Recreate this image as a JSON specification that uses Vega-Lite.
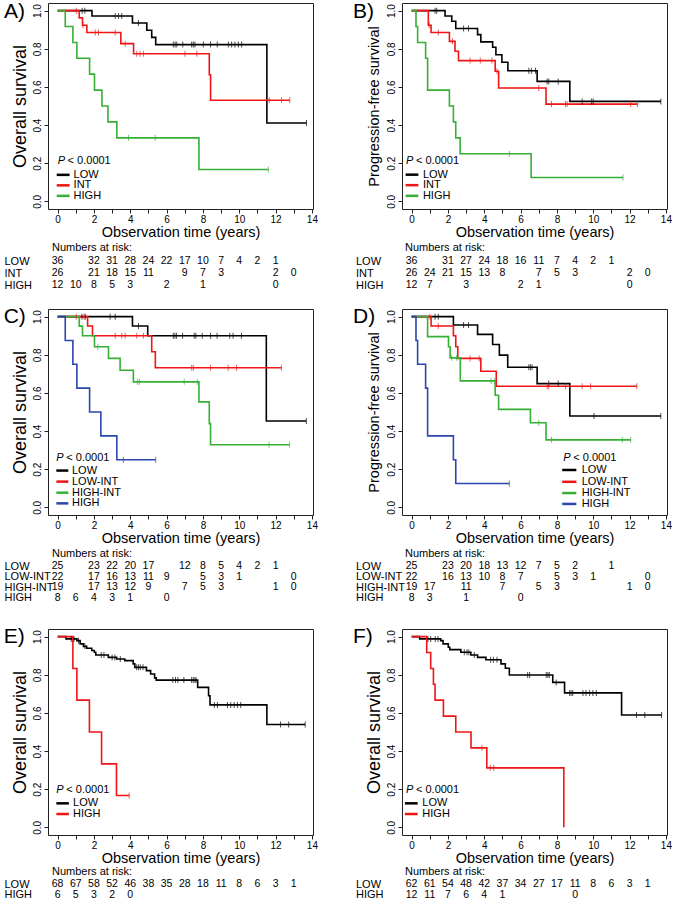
{
"$schema": "https://vega.github.io/schema/vega-lite/v6.json",
"padding": {"left": 3, "top": 0, "right": 0, "bottom": 0},
"background": "white",
"config": {
  "font": "Liberation Sans",
  "view": {"stroke": "#222", "strokeWidth": 1},
  "axis": {"grid": false, "domain": false, "tickColor": "#222", "tickSize": 4, "labelFontSize": 10, "labelColor": "#000", "titleColor": "#000", "titleFontWeight": "normal", "labelOverlap": false},
  "title": {"fontWeight": "normal", "color": "#000"}
},
"datasets": {
  "aC": [
    {"g":"LOW","t":0,"s":1},{"g":"LOW","t":1.89,"s":0.972},{"g":"LOW","t":4.12,"s":0.935},{"g":"LOW","t":4.91,"s":0.897},{"g":"LOW","t":5.18,"s":0.86},{"g":"LOW","t":5.4,"s":0.822},{"g":"LOW","t":11.52,"s":0.411},{"g":"LOW","t":13.7,"s":0.411},
    {"g":"INT","t":0,"s":1},{"g":"INT","t":1.19,"s":0.962},{"g":"INT","t":1.37,"s":0.923},{"g":"INT","t":1.61,"s":0.885},{"g":"INT","t":3.48,"s":0.827},{"g":"INT","t":4.18,"s":0.774},{"g":"INT","t":8.35,"s":0.664},{"g":"INT","t":8.42,"s":0.53},{"g":"INT","t":12.78,"s":0.53},
    {"g":"HIGH","t":0,"s":1},{"g":"HIGH","t":0.42,"s":0.917},{"g":"HIGH","t":0.84,"s":0.833},{"g":"HIGH","t":1.06,"s":0.75},{"g":"HIGH","t":1.76,"s":0.667},{"g":"HIGH","t":2.03,"s":0.583},{"g":"HIGH","t":2.44,"s":0.5},{"g":"HIGH","t":2.77,"s":0.417},{"g":"HIGH","t":3.26,"s":0.333},{"g":"HIGH","t":7.78,"s":0.167},{"g":"HIGH","t":11.6,"s":0.167}
  ],
  "aX": [
    {"g":"LOW","t":1.35,"s":1},{"g":"LOW","t":1.5,"s":1},{"g":"LOW","t":3.17,"s":0.972},{"g":"LOW","t":3.35,"s":0.972},{"g":"LOW","t":3.53,"s":0.972},{"g":"LOW","t":4.45,"s":0.935},
    {"g":"LOW","t":6.37,"s":0.822},{"g":"LOW","t":6.47,"s":0.822},{"g":"LOW","t":6.56,"s":0.822},{"g":"LOW","t":6.89,"s":0.822},{"g":"LOW","t":7.38,"s":0.822},{"g":"LOW","t":7.47,"s":0.822},{"g":"LOW","t":7.56,"s":0.822},{"g":"LOW","t":8.02,"s":0.822},{"g":"LOW","t":8.42,"s":0.822},{"g":"LOW","t":8.79,"s":0.822},{"g":"LOW","t":9.4,"s":0.822},{"g":"LOW","t":9.58,"s":0.822},{"g":"LOW","t":9.76,"s":0.822},{"g":"LOW","t":9.95,"s":0.822},{"g":"LOW","t":10.13,"s":0.822},{"g":"LOW","t":13.7,"s":0.411},
    {"g":"INT","t":1.03,"s":1},{"g":"INT","t":1.39,"s":0.923},{"g":"INT","t":2.07,"s":0.885},{"g":"INT","t":2.25,"s":0.885},{"g":"INT","t":3.17,"s":0.885},{"g":"INT","t":3.72,"s":0.827},{"g":"INT","t":4.36,"s":0.774},{"g":"INT","t":4.54,"s":0.774},{"g":"INT","t":4.73,"s":0.774},{"g":"INT","t":7.01,"s":0.774},{"g":"INT","t":7.66,"s":0.774},{"g":"INT","t":11.65,"s":0.53},{"g":"INT","t":12.33,"s":0.53},{"g":"INT","t":12.78,"s":0.53},
    {"g":"HIGH","t":3.9,"s":0.333},{"g":"HIGH","t":5.37,"s":0.333},{"g":"HIGH","t":11.6,"s":0.167}
  ],
  "aR": [
    {"g":"LOW","t":0,"n":36},{"g":"LOW","t":2,"n":32},{"g":"LOW","t":3,"n":31},{"g":"LOW","t":4,"n":28},{"g":"LOW","t":5,"n":24},{"g":"LOW","t":6,"n":22},{"g":"LOW","t":7,"n":17},{"g":"LOW","t":8,"n":10},{"g":"LOW","t":9,"n":7},{"g":"LOW","t":10,"n":4},{"g":"LOW","t":11,"n":2},{"g":"LOW","t":12,"n":1},
    {"g":"INT","t":0,"n":26},{"g":"INT","t":2,"n":21},{"g":"INT","t":3,"n":18},{"g":"INT","t":4,"n":15},{"g":"INT","t":5,"n":11},{"g":"INT","t":7,"n":9},{"g":"INT","t":8,"n":7},{"g":"INT","t":9,"n":3},{"g":"INT","t":12,"n":2},{"g":"INT","t":13,"n":0},
    {"g":"HIGH","t":0,"n":12},{"g":"HIGH","t":1,"n":10},{"g":"HIGH","t":2,"n":8},{"g":"HIGH","t":3,"n":5},{"g":"HIGH","t":4,"n":3},{"g":"HIGH","t":6,"n":2},{"g":"HIGH","t":8,"n":1},{"g":"HIGH","t":12,"n":0}
  ],
  "bC": [
    {"g":"LOW","t":0,"s":1},{"g":"LOW","t":1.84,"s":0.972},{"g":"LOW","t":2.21,"s":0.944},{"g":"LOW","t":2.43,"s":0.906},{"g":"LOW","t":3.63,"s":0.874},{"g":"LOW","t":3.81,"s":0.836},{"g":"LOW","t":4.46,"s":0.808},{"g":"LOW","t":4.64,"s":0.769},{"g":"LOW","t":4.97,"s":0.729},{"g":"LOW","t":5.3,"s":0.685},{"g":"LOW","t":6.91,"s":0.629},{"g":"LOW","t":8.71,"s":0.524},{"g":"LOW","t":13.72,"s":0.524},
    {"g":"INT","t":0,"s":1},{"g":"INT","t":0.92,"s":0.923},{"g":"INT","t":1.07,"s":0.885},{"g":"INT","t":2.08,"s":0.839},{"g":"INT","t":2.39,"s":0.787},{"g":"INT","t":2.58,"s":0.738},{"g":"INT","t":4.6,"s":0.682},{"g":"INT","t":4.79,"s":0.594},{"g":"INT","t":7.4,"s":0.51},{"g":"INT","t":12.43,"s":0.51},
    {"g":"HIGH","t":0,"s":1},{"g":"HIGH","t":0.24,"s":0.917},{"g":"HIGH","t":0.33,"s":0.833},{"g":"HIGH","t":0.77,"s":0.75},{"g":"HIGH","t":0.88,"s":0.583},{"g":"HIGH","t":2.08,"s":0.5},{"g":"HIGH","t":2.3,"s":0.417},{"g":"HIGH","t":2.43,"s":0.333},{"g":"HIGH","t":2.67,"s":0.25},{"g":"HIGH","t":6.58,"s":0.125},{"g":"HIGH","t":11.64,"s":0.125}
  ],
  "bX": [
    {"g":"LOW","t":1.29,"s":1},{"g":"LOW","t":1.38,"s":1},{"g":"LOW","t":2.86,"s":0.906},{"g":"LOW","t":3.13,"s":0.906},{"g":"LOW","t":6.45,"s":0.685},{"g":"LOW","t":6.59,"s":0.685},{"g":"LOW","t":6.82,"s":0.685},{"g":"LOW","t":7.46,"s":0.629},{"g":"LOW","t":7.55,"s":0.629},{"g":"LOW","t":8.07,"s":0.629},{"g":"LOW","t":9.39,"s":0.524},{"g":"LOW","t":9.91,"s":0.524},{"g":"LOW","t":10.0,"s":0.524},{"g":"LOW","t":13.72,"s":0.524},
    {"g":"INT","t":0.97,"s":0.923},{"g":"INT","t":1.47,"s":0.885},{"g":"INT","t":2.25,"s":0.839},{"g":"INT","t":3.22,"s":0.738},{"g":"INT","t":3.78,"s":0.738},{"g":"INT","t":4.42,"s":0.738},{"g":"INT","t":4.7,"s":0.682},{"g":"INT","t":7.0,"s":0.594},{"g":"INT","t":7.7,"s":0.51},{"g":"INT","t":8.47,"s":0.51},{"g":"INT","t":8.56,"s":0.51},{"g":"INT","t":12.06,"s":0.51},{"g":"INT","t":12.43,"s":0.51},
    {"g":"HIGH","t":5.38,"s":0.25},{"g":"HIGH","t":11.64,"s":0.125}
  ],
  "bR": [
    {"g":"LOW","t":0,"n":36},{"g":"LOW","t":2,"n":31},{"g":"LOW","t":3,"n":27},{"g":"LOW","t":4,"n":24},{"g":"LOW","t":5,"n":18},{"g":"LOW","t":6,"n":16},{"g":"LOW","t":7,"n":11},{"g":"LOW","t":8,"n":7},{"g":"LOW","t":9,"n":4},{"g":"LOW","t":10,"n":2},{"g":"LOW","t":11,"n":1},
    {"g":"INT","t":0,"n":26},{"g":"INT","t":1,"n":24},{"g":"INT","t":2,"n":21},{"g":"INT","t":3,"n":15},{"g":"INT","t":4,"n":13},{"g":"INT","t":5,"n":8},{"g":"INT","t":7,"n":7},{"g":"INT","t":8,"n":5},{"g":"INT","t":9,"n":3},{"g":"INT","t":12,"n":2},{"g":"INT","t":13,"n":0},
    {"g":"HIGH","t":0,"n":12},{"g":"HIGH","t":1,"n":7},{"g":"HIGH","t":3,"n":3},{"g":"HIGH","t":6,"n":2},{"g":"HIGH","t":7,"n":1},{"g":"HIGH","t":12,"n":0}
  ],
  "cC": [
    {"g":"LOW","t":0,"s":1},{"g":"LOW","t":4.12,"s":0.951},{"g":"LOW","t":4.96,"s":0.9},{"g":"LOW","t":11.49,"s":0.453},{"g":"LOW","t":13.69,"s":0.453},
    {"g":"LOW-INT","t":0,"s":1},{"g":"LOW-INT","t":1.65,"s":0.951},{"g":"LOW-INT","t":1.92,"s":0.9},{"g":"LOW-INT","t":5.18,"s":0.816},{"g":"LOW-INT","t":5.38,"s":0.732},{"g":"LOW-INT","t":12.32,"s":0.732},
    {"g":"HIGH-INT","t":0,"s":1},{"g":"HIGH-INT","t":1.19,"s":0.95},{"g":"HIGH-INT","t":1.37,"s":0.9},{"g":"HIGH-INT","t":2.03,"s":0.842},{"g":"HIGH-INT","t":2.8,"s":0.781},{"g":"HIGH-INT","t":3.44,"s":0.719},{"g":"HIGH-INT","t":4.17,"s":0.658},{"g":"HIGH-INT","t":7.78,"s":0.553},{"g":"HIGH-INT","t":8.35,"s":0.439},{"g":"HIGH-INT","t":8.42,"s":0.328},{"g":"HIGH-INT","t":12.77,"s":0.328},
    {"g":"HIGH","t":0,"s":1},{"g":"HIGH","t":0.42,"s":0.875},{"g":"HIGH","t":0.84,"s":0.75},{"g":"HIGH","t":1.06,"s":0.625},{"g":"HIGH","t":1.76,"s":0.5},{"g":"HIGH","t":2.38,"s":0.375},{"g":"HIGH","t":3.26,"s":0.25},{"g":"HIGH","t":5.4,"s":0.25}
  ],
  "cX": [
    {"g":"LOW","t":1.34,"s":1},{"g":"LOW","t":1.52,"s":1},{"g":"LOW","t":2.89,"s":1},{"g":"LOW","t":3.17,"s":1},{"g":"LOW","t":4.45,"s":0.951},
    {"g":"LOW","t":6.37,"s":0.9},{"g":"LOW","t":6.46,"s":0.9},{"g":"LOW","t":6.55,"s":0.9},{"g":"LOW","t":6.88,"s":0.9},{"g":"LOW","t":7.52,"s":0.9},{"g":"LOW","t":7.61,"s":0.9},{"g":"LOW","t":7.96,"s":0.9},{"g":"LOW","t":8.42,"s":0.9},{"g":"LOW","t":8.78,"s":0.9},{"g":"LOW","t":9.48,"s":0.9},{"g":"LOW","t":9.66,"s":0.9},{"g":"LOW","t":10.12,"s":0.9},{"g":"LOW","t":13.69,"s":0.453},
    {"g":"LOW-INT","t":1.02,"s":1},{"g":"LOW-INT","t":1.46,"s":1},{"g":"LOW-INT","t":3.17,"s":0.9},{"g":"LOW-INT","t":3.53,"s":0.9},{"g":"LOW-INT","t":3.72,"s":0.9},{"g":"LOW-INT","t":4.36,"s":0.9},{"g":"LOW-INT","t":4.72,"s":0.9},{"g":"LOW-INT","t":7.38,"s":0.732},{"g":"LOW-INT","t":7.47,"s":0.732},{"g":"LOW-INT","t":8.42,"s":0.732},{"g":"LOW-INT","t":9.39,"s":0.732},{"g":"LOW-INT","t":9.85,"s":0.732},{"g":"LOW-INT","t":12.32,"s":0.732},
    {"g":"HIGH-INT","t":2.21,"s":0.842},{"g":"HIGH-INT","t":4.39,"s":0.658},{"g":"HIGH-INT","t":4.5,"s":0.658},{"g":"HIGH-INT","t":6.97,"s":0.658},{"g":"HIGH-INT","t":7.69,"s":0.658},{"g":"HIGH-INT","t":11.64,"s":0.328},{"g":"HIGH-INT","t":12.77,"s":0.328},
    {"g":"HIGH","t":3.62,"s":0.25},{"g":"HIGH","t":5.4,"s":0.25}
  ],
  "cR": [
    {"g":"LOW","t":0,"n":25},{"g":"LOW","t":2,"n":23},{"g":"LOW","t":3,"n":22},{"g":"LOW","t":4,"n":20},{"g":"LOW","t":5,"n":17},{"g":"LOW","t":7,"n":12},{"g":"LOW","t":8,"n":8},{"g":"LOW","t":9,"n":5},{"g":"LOW","t":10,"n":4},{"g":"LOW","t":11,"n":2},{"g":"LOW","t":12,"n":1},
    {"g":"LOW-INT","t":0,"n":22},{"g":"LOW-INT","t":2,"n":17},{"g":"LOW-INT","t":3,"n":16},{"g":"LOW-INT","t":4,"n":13},{"g":"LOW-INT","t":5,"n":11},{"g":"LOW-INT","t":6,"n":9},{"g":"LOW-INT","t":8,"n":5},{"g":"LOW-INT","t":9,"n":3},{"g":"LOW-INT","t":10,"n":1},{"g":"LOW-INT","t":13,"n":0},
    {"g":"HIGH-INT","t":0,"n":19},{"g":"HIGH-INT","t":2,"n":17},{"g":"HIGH-INT","t":3,"n":13},{"g":"HIGH-INT","t":4,"n":12},{"g":"HIGH-INT","t":5,"n":9},{"g":"HIGH-INT","t":7,"n":7},{"g":"HIGH-INT","t":8,"n":5},{"g":"HIGH-INT","t":9,"n":3},{"g":"HIGH-INT","t":12,"n":1},{"g":"HIGH-INT","t":13,"n":0},
    {"g":"HIGH","t":0,"n":8},{"g":"HIGH","t":1,"n":6},{"g":"HIGH","t":2,"n":4},{"g":"HIGH","t":3,"n":3},{"g":"HIGH","t":4,"n":1},{"g":"HIGH","t":6,"n":0}
  ],
  "dC": [
    {"g":"LOW","t":0,"s":1},{"g":"LOW","t":2.3,"s":0.956},{"g":"LOW","t":3.63,"s":0.907},{"g":"LOW","t":4.46,"s":0.854},{"g":"LOW","t":4.83,"s":0.798},{"g":"LOW","t":5.29,"s":0.735},{"g":"LOW","t":6.91,"s":0.649},{"g":"LOW","t":8.71,"s":0.479},{"g":"LOW","t":13.72,"s":0.479},
    {"g":"LOW-INT","t":0,"s":1},{"g":"LOW-INT","t":1.07,"s":0.951},{"g":"LOW-INT","t":2.3,"s":0.9},{"g":"LOW-INT","t":2.43,"s":0.842},{"g":"LOW-INT","t":2.54,"s":0.781},{"g":"LOW-INT","t":3.81,"s":0.714},{"g":"LOW-INT","t":4.66,"s":0.635},{"g":"LOW-INT","t":12.4,"s":0.635},
    {"g":"HIGH-INT","t":0,"s":1},{"g":"HIGH-INT","t":0.88,"s":0.895},{"g":"HIGH-INT","t":2.03,"s":0.842},{"g":"HIGH-INT","t":2.12,"s":0.784},{"g":"HIGH-INT","t":2.68,"s":0.663},{"g":"HIGH-INT","t":4.6,"s":0.588},{"g":"HIGH-INT","t":4.79,"s":0.514},{"g":"HIGH-INT","t":6.54,"s":0.444},{"g":"HIGH-INT","t":7.4,"s":0.354},{"g":"HIGH-INT","t":12.06,"s":0.354},
    {"g":"HIGH","t":0,"s":1},{"g":"HIGH","t":0.24,"s":0.875},{"g":"HIGH","t":0.33,"s":0.75},{"g":"HIGH","t":0.77,"s":0.625},{"g":"HIGH","t":0.88,"s":0.375},{"g":"HIGH","t":2.3,"s":0.25},{"g":"HIGH","t":2.43,"s":0.125},{"g":"HIGH","t":5.38,"s":0.125}
  ],
  "dX": [
    {"g":"LOW","t":1.29,"s":1},{"g":"LOW","t":1.47,"s":1},{"g":"LOW","t":2.86,"s":0.956},{"g":"LOW","t":3.13,"s":0.956},{"g":"LOW","t":6.45,"s":0.735},{"g":"LOW","t":6.54,"s":0.735},{"g":"LOW","t":6.63,"s":0.735},{"g":"LOW","t":7.55,"s":0.649},{"g":"LOW","t":8.07,"s":0.649},{"g":"LOW","t":10.04,"s":0.479},{"g":"LOW","t":13.72,"s":0.479},
    {"g":"LOW-INT","t":1.01,"s":1},{"g":"LOW-INT","t":1.47,"s":0.951},{"g":"LOW-INT","t":3.22,"s":0.781},{"g":"LOW-INT","t":3.72,"s":0.781},{"g":"LOW-INT","t":7.46,"s":0.635},{"g":"LOW-INT","t":7.55,"s":0.635},{"g":"LOW-INT","t":8.47,"s":0.635},{"g":"LOW-INT","t":9.39,"s":0.635},{"g":"LOW-INT","t":9.85,"s":0.635},{"g":"LOW-INT","t":12.4,"s":0.635},
    {"g":"HIGH-INT","t":2.21,"s":0.784},{"g":"HIGH-INT","t":2.48,"s":0.784},{"g":"HIGH-INT","t":4.38,"s":0.663},{"g":"HIGH-INT","t":4.57,"s":0.663},{"g":"HIGH-INT","t":7.0,"s":0.444},{"g":"HIGH-INT","t":7.7,"s":0.354},{"g":"HIGH-INT","t":11.6,"s":0.354},{"g":"HIGH-INT","t":12.06,"s":0.354},
    {"g":"HIGH","t":5.38,"s":0.125}
  ],
  "dR": [
    {"g":"LOW","t":0,"n":25},{"g":"LOW","t":2,"n":23},{"g":"LOW","t":3,"n":20},{"g":"LOW","t":4,"n":18},{"g":"LOW","t":5,"n":13},{"g":"LOW","t":6,"n":12},{"g":"LOW","t":7,"n":7},{"g":"LOW","t":8,"n":5},{"g":"LOW","t":9,"n":2},{"g":"LOW","t":11,"n":1},
    {"g":"LOW-INT","t":0,"n":22},{"g":"LOW-INT","t":2,"n":16},{"g":"LOW-INT","t":3,"n":13},{"g":"LOW-INT","t":4,"n":10},{"g":"LOW-INT","t":5,"n":8},{"g":"LOW-INT","t":6,"n":7},{"g":"LOW-INT","t":8,"n":5},{"g":"LOW-INT","t":9,"n":3},{"g":"LOW-INT","t":10,"n":1},{"g":"LOW-INT","t":13,"n":0},
    {"g":"HIGH-INT","t":0,"n":19},{"g":"HIGH-INT","t":1,"n":17},{"g":"HIGH-INT","t":3,"n":11},{"g":"HIGH-INT","t":5,"n":7},{"g":"HIGH-INT","t":7,"n":5},{"g":"HIGH-INT","t":8,"n":3},{"g":"HIGH-INT","t":12,"n":1},{"g":"HIGH-INT","t":13,"n":0},
    {"g":"HIGH","t":0,"n":8},{"g":"HIGH","t":1,"n":3},{"g":"HIGH","t":3,"n":1},{"g":"HIGH","t":6,"n":0}
  ],
  "eC": [
    {"g":"LOW","t":0,"s":1},{"g":"LOW","t":0.46,"s":0.988},{"g":"LOW","t":1.06,"s":0.979},{"g":"LOW","t":1.24,"s":0.962},{"g":"LOW","t":1.42,"s":0.949},{"g":"LOW","t":1.6,"s":0.939},{"g":"LOW","t":1.88,"s":0.927},{"g":"LOW","t":2.02,"s":0.918},{"g":"LOW","t":2.1,"s":0.904},{"g":"LOW","t":2.79,"s":0.891},{"g":"LOW","t":3.25,"s":0.883},{"g":"LOW","t":3.7,"s":0.874},{"g":"LOW","t":4.16,"s":0.857},{"g":"LOW","t":4.25,"s":0.839},{"g":"LOW","t":4.89,"s":0.822},{"g":"LOW","t":5.12,"s":0.804},{"g":"LOW","t":5.34,"s":0.784},{"g":"LOW","t":5.43,"s":0.772},{"g":"LOW","t":7.71,"s":0.734},{"g":"LOW","t":8.31,"s":0.69},{"g":"LOW","t":8.39,"s":0.642},{"g":"LOW","t":11.52,"s":0.539},{"g":"LOW","t":13.63,"s":0.539},
    {"g":"HIGH","t":0,"s":1},{"g":"HIGH","t":0.84,"s":0.833},{"g":"HIGH","t":1.06,"s":0.667},{"g":"HIGH","t":1.75,"s":0.5},{"g":"HIGH","t":2.42,"s":0.333},{"g":"HIGH","t":3.24,"s":0.167},{"g":"HIGH","t":3.94,"s":0.167}
  ],
  "eX": [
    {"g":"LOW","t":0.75,"s":0.988},{"g":"LOW","t":0.9,"s":0.988},{"g":"LOW","t":1.15,"s":0.979},{"g":"LOW","t":1.5,"s":0.949},{"g":"LOW","t":2.4,"s":0.904},{"g":"LOW","t":2.55,"s":0.904},{"g":"LOW","t":3.0,"s":0.891},{"g":"LOW","t":3.15,"s":0.891},{"g":"LOW","t":3.45,"s":0.883},
    {"g":"LOW","t":4.35,"s":0.839},{"g":"LOW","t":4.45,"s":0.839},{"g":"LOW","t":4.55,"s":0.839},{"g":"LOW","t":4.7,"s":0.839},
    {"g":"LOW","t":6.34,"s":0.772},{"g":"LOW","t":6.49,"s":0.772},{"g":"LOW","t":6.62,"s":0.772},{"g":"LOW","t":6.95,"s":0.772},{"g":"LOW","t":7.38,"s":0.772},{"g":"LOW","t":7.47,"s":0.772},{"g":"LOW","t":7.56,"s":0.772},{"g":"LOW","t":7.62,"s":0.772},
    {"g":"LOW","t":8.63,"s":0.642},{"g":"LOW","t":8.8,"s":0.642},{"g":"LOW","t":9.35,"s":0.642},{"g":"LOW","t":9.53,"s":0.642},{"g":"LOW","t":9.72,"s":0.642},{"g":"LOW","t":9.9,"s":0.642},{"g":"LOW","t":10.08,"s":0.642},{"g":"LOW","t":12.27,"s":0.539},{"g":"LOW","t":12.72,"s":0.539},{"g":"LOW","t":13.63,"s":0.539},
    {"g":"HIGH","t":3.94,"s":0.167}
  ],
  "eR": [
    {"g":"LOW","t":0,"n":68},{"g":"LOW","t":1,"n":67},{"g":"LOW","t":2,"n":58},{"g":"LOW","t":3,"n":52},{"g":"LOW","t":4,"n":46},{"g":"LOW","t":5,"n":38},{"g":"LOW","t":6,"n":35},{"g":"LOW","t":7,"n":28},{"g":"LOW","t":8,"n":18},{"g":"LOW","t":9,"n":11},{"g":"LOW","t":10,"n":8},{"g":"LOW","t":11,"n":6},{"g":"LOW","t":12,"n":3},{"g":"LOW","t":13,"n":1},
    {"g":"HIGH","t":0,"n":6},{"g":"HIGH","t":1,"n":5},{"g":"HIGH","t":2,"n":3},{"g":"HIGH","t":3,"n":2},{"g":"HIGH","t":4,"n":0}
  ],
  "fC": [
    {"g":"LOW","t":0,"s":1},{"g":"LOW","t":0.44,"s":0.988},{"g":"LOW","t":1.6,"s":0.979},{"g":"LOW","t":1.73,"s":0.962},{"g":"LOW","t":2.02,"s":0.944},{"g":"LOW","t":2.1,"s":0.932},{"g":"LOW","t":2.71,"s":0.918},{"g":"LOW","t":3.26,"s":0.904},{"g":"LOW","t":3.63,"s":0.891},{"g":"LOW","t":4.09,"s":0.879},{"g":"LOW","t":4.92,"s":0.857},{"g":"LOW","t":5.16,"s":0.834},{"g":"LOW","t":5.38,"s":0.799},{"g":"LOW","t":7.77,"s":0.76},{"g":"LOW","t":8.42,"s":0.705},{"g":"LOW","t":11.56,"s":0.589},{"g":"LOW","t":13.76,"s":0.589},
    {"g":"HIGH","t":0,"s":1},{"g":"HIGH","t":0.83,"s":0.917},{"g":"HIGH","t":1.05,"s":0.833},{"g":"HIGH","t":1.2,"s":0.75},{"g":"HIGH","t":1.29,"s":0.667},{"g":"HIGH","t":1.75,"s":0.583},{"g":"HIGH","t":2.43,"s":0.5},{"g":"HIGH","t":3.27,"s":0.417},{"g":"HIGH","t":4.14,"s":0.312},{"g":"HIGH","t":8.38,"s":0}
  ],
  "fX": [
    {"g":"LOW","t":0.9,"s":0.988},{"g":"LOW","t":1.05,"s":0.988},{"g":"LOW","t":1.3,"s":0.988},{"g":"LOW","t":1.45,"s":0.988},{"g":"LOW","t":2.9,"s":0.918},{"g":"LOW","t":3.05,"s":0.918},{"g":"LOW","t":3.15,"s":0.918},{"g":"LOW","t":3.45,"s":0.904},{"g":"LOW","t":4.35,"s":0.879},{"g":"LOW","t":4.5,"s":0.879},{"g":"LOW","t":4.7,"s":0.879},
    {"g":"LOW","t":6.39,"s":0.799},{"g":"LOW","t":6.5,"s":0.799},{"g":"LOW","t":7.41,"s":0.799},{"g":"LOW","t":7.5,"s":0.799},{"g":"LOW","t":7.58,"s":0.799},{"g":"LOW","t":7.96,"s":0.76},
    {"g":"LOW","t":8.7,"s":0.705},{"g":"LOW","t":8.78,"s":0.705},{"g":"LOW","t":8.87,"s":0.705},{"g":"LOW","t":9.43,"s":0.705},{"g":"LOW","t":9.6,"s":0.705},{"g":"LOW","t":9.8,"s":0.705},{"g":"LOW","t":9.98,"s":0.705},{"g":"LOW","t":10.17,"s":0.705},{"g":"LOW","t":12.38,"s":0.589},{"g":"LOW","t":12.84,"s":0.589},{"g":"LOW","t":13.76,"s":0.589},
    {"g":"HIGH","t":3.87,"s":0.417},{"g":"HIGH","t":4.33,"s":0.312},{"g":"HIGH","t":4.52,"s":0.312}
  ],
  "fR": [
    {"g":"LOW","t":0,"n":62},{"g":"LOW","t":1,"n":61},{"g":"LOW","t":2,"n":54},{"g":"LOW","t":3,"n":48},{"g":"LOW","t":4,"n":42},{"g":"LOW","t":5,"n":37},{"g":"LOW","t":6,"n":34},{"g":"LOW","t":7,"n":27},{"g":"LOW","t":8,"n":17},{"g":"LOW","t":9,"n":11},{"g":"LOW","t":10,"n":8},{"g":"LOW","t":11,"n":6},{"g":"LOW","t":12,"n":3},{"g":"LOW","t":13,"n":1},
    {"g":"HIGH","t":0,"n":12},{"g":"HIGH","t":1,"n":11},{"g":"HIGH","t":2,"n":7},{"g":"HIGH","t":3,"n":6},{"g":"HIGH","t":4,"n":4},{"g":"HIGH","t":5,"n":1},{"g":"HIGH","t":9,"n":0}
  ]
},
"resolve": {"scale": {"color": "independent"}},
"spacing": 14,
"vconcat": [
  {
    "hconcat": [
      {
        "vconcat": [
          {
            "width": 265, "height": 206,
            "layer": [
              {"data": {"name": "aC"}, "mark": {"type": "line", "interpolate": "step-after", "strokeWidth": 1.6},
               "encoding": {
                 "x": {"field": "t", "type": "quantitative", "scale": {"domain": [-0.53, 14.06], "nice": false, "zero": false}, "axis": {"title": "Observation time (years)", "tickCount": 14, "labelExpr": "datum.value % 2 === 0 ? datum.label : ''", "labelFlush": false, "labelOverlap": false, "labelPadding": 1, "titleFontSize": 14.5, "titlePadding": 1}},
                 "y": {"field": "s", "type": "quantitative", "scale": {"domain": [-0.04, 1.04], "nice": false, "zero": false}, "axis": {"title": "Overall survival", "values": [0,0.2,0.4,0.6,0.8,1], "format": ".1f", "labelAngle": 270, "labelAlign": "center", "labelBaseline": "bottom", "labelPadding": 2, "labelFlush": false, "titleFontSize": 18, "titlePadding": 3}},
                 "color": {"field": "g", "type": "nominal", "scale": {"domain": ["LOW","INT","HIGH"], "range": ["#000000","#f01515","#35b035"]}, "legend": null}
               }},
              {"data": {"name": "aX"}, "mark": {"type": "tick", "orient": "vertical", "size": 6, "thickness": 1},
               "encoding": {"x": {"field": "t", "type": "quantitative"}, "y": {"field": "s", "type": "quantitative"}, "color": {"field": "g", "type": "nominal", "legend": null}}},
              {"data": {"values": [{}]}, "mark": {"type": "text", "align": "left", "baseline": "middle", "fontSize": 11, "fontStyle": "italic"}, "encoding": {"x": {"datum": 0.0}, "y": {"datum": 0.213}, "text": {"value": "P"}}},
              {"data": {"values": [{}]}, "mark": {"type": "text", "align": "left", "baseline": "middle", "fontSize": 11}, "encoding": {"x": {"datum": 0.55}, "y": {"datum": 0.213}, "text": {"value": "< 0.0001"}}},
              {"data": {"values": [{}]}, "mark": {"type": "rule", "strokeWidth": 2.5, "color": "#000000"}, "encoding": {"x": {"datum": -0.05}, "x2": {"datum": 0.66}, "y": {"datum": 0.139}}},
              {"data": {"values": [{}]}, "mark": {"type": "rule", "strokeWidth": 2.5, "color": "#f01515"}, "encoding": {"x": {"datum": -0.05}, "x2": {"datum": 0.66}, "y": {"datum": 0.084}}},
              {"data": {"values": [{}]}, "mark": {"type": "rule", "strokeWidth": 2.5, "color": "#35b035"}, "encoding": {"x": {"datum": -0.05}, "x2": {"datum": 0.66}, "y": {"datum": 0.029}}},
              {"data": {"values": [{}]}, "mark": {"type": "text", "align": "left", "baseline": "middle", "fontSize": 11}, "encoding": {"x": {"datum": 0.88}, "y": {"datum": 0.139}, "text": {"value": "LOW"}}},
              {"data": {"values": [{}]}, "mark": {"type": "text", "align": "left", "baseline": "middle", "fontSize": 11}, "encoding": {"x": {"datum": 0.88}, "y": {"datum": 0.084}, "text": {"value": "INT"}}},
              {"data": {"values": [{}]}, "mark": {"type": "text", "align": "left", "baseline": "middle", "fontSize": 11}, "encoding": {"x": {"datum": 0.88}, "y": {"datum": 0.029}, "text": {"value": "HIGH"}}},
              {"data": {"values": [{}]}, "mark": {"type": "text", "align": "left", "baseline": "middle", "fontSize": 21}, "encoding": {"x": {"datum": -2.95}, "y": {"datum": 0.993}, "text": {"value": "A)"}}}
            ]
          },
          {
            "width": 265, "height": 36, "view": {"stroke": null},
            "title": {"text": "Numbers at risk:", "anchor": "start", "frame": "group", "fontSize": 11, "dx": 4, "offset": 2},
            "data": {"name": "aR"},
            "mark": {"type": "text", "fontSize": 10.5},
            "encoding": {
              "x": {"field": "t", "type": "quantitative", "scale": {"domain": [-0.53, 14.06], "nice": false, "zero": false}, "axis": null},
              "y": {"field": "g", "type": "nominal", "scale": {"domain": ["LOW","INT","HIGH"], "paddingInner": 0, "paddingOuter": 0}, "axis": {"title": null, "ticks": false, "tickSize": 0, "labelAlign": "left", "labelPadding": 44, "labelFontSize": 11}},
              "text": {"field": "n"}
            }
          }
        ],
        "spacing": 3
      },
      {
        "vconcat": [
          {
            "width": 265, "height": 206,
            "layer": [
              {"data": {"name": "bC"}, "mark": {"type": "line", "interpolate": "step-after", "strokeWidth": 1.6},
               "encoding": {
                 "x": {"field": "t", "type": "quantitative", "scale": {"domain": [-0.53, 14.06], "nice": false, "zero": false}, "axis": {"title": "Observation time (years)", "tickCount": 14, "labelExpr": "datum.value % 2 === 0 ? datum.label : ''", "labelFlush": false, "labelOverlap": false, "labelPadding": 1, "titleFontSize": 14.5, "titlePadding": 1}},
                 "y": {"field": "s", "type": "quantitative", "scale": {"domain": [-0.04, 1.04], "nice": false, "zero": false}, "axis": {"title": "Progression-free survival", "values": [0,0.2,0.4,0.6,0.8,1], "format": ".1f", "labelAngle": 270, "labelAlign": "center", "labelBaseline": "bottom", "labelPadding": 2, "labelFlush": false, "titleFontSize": 14.5, "titlePadding": 5}},
                 "color": {"field": "g", "type": "nominal", "scale": {"domain": ["LOW","INT","HIGH"], "range": ["#000000","#f01515","#35b035"]}, "legend": null}
               }},
              {"data": {"name": "bX"}, "mark": {"type": "tick", "orient": "vertical", "size": 6, "thickness": 1},
               "encoding": {"x": {"field": "t", "type": "quantitative"}, "y": {"field": "s", "type": "quantitative"}, "color": {"field": "g", "type": "nominal", "legend": null}}},
              {"data": {"values": [{}]}, "mark": {"type": "text", "align": "left", "baseline": "middle", "fontSize": 11, "fontStyle": "italic"}, "encoding": {"x": {"datum": -0.31}, "y": {"datum": 0.213}, "text": {"value": "P"}}},
              {"data": {"values": [{}]}, "mark": {"type": "text", "align": "left", "baseline": "middle", "fontSize": 11}, "encoding": {"x": {"datum": 0.24}, "y": {"datum": 0.213}, "text": {"value": "< 0.0001"}}},
              {"data": {"values": [{}]}, "mark": {"type": "rule", "strokeWidth": 2.5, "color": "#000000"}, "encoding": {"x": {"datum": -0.33}, "x2": {"datum": 0.37}, "y": {"datum": 0.14}}},
              {"data": {"values": [{}]}, "mark": {"type": "rule", "strokeWidth": 2.5, "color": "#f01515"}, "encoding": {"x": {"datum": -0.33}, "x2": {"datum": 0.37}, "y": {"datum": 0.085}}},
              {"data": {"values": [{}]}, "mark": {"type": "rule", "strokeWidth": 2.5, "color": "#35b035"}, "encoding": {"x": {"datum": -0.33}, "x2": {"datum": 0.37}, "y": {"datum": 0.029}}},
              {"data": {"values": [{}]}, "mark": {"type": "text", "align": "left", "baseline": "middle", "fontSize": 11}, "encoding": {"x": {"datum": 0.62}, "y": {"datum": 0.14}, "text": {"value": "LOW"}}},
              {"data": {"values": [{}]}, "mark": {"type": "text", "align": "left", "baseline": "middle", "fontSize": 11}, "encoding": {"x": {"datum": 0.62}, "y": {"datum": 0.085}, "text": {"value": "INT"}}},
              {"data": {"values": [{}]}, "mark": {"type": "text", "align": "left", "baseline": "middle", "fontSize": 11}, "encoding": {"x": {"datum": 0.62}, "y": {"datum": 0.029}, "text": {"value": "HIGH"}}},
              {"data": {"values": [{}]}, "mark": {"type": "text", "align": "left", "baseline": "middle", "fontSize": 21}, "encoding": {"x": {"datum": -3.23}, "y": {"datum": 0.993}, "text": {"value": "B)"}}}
            ]
          },
          {
            "width": 265, "height": 36, "view": {"stroke": null},
            "title": {"text": "Numbers at risk:", "anchor": "start", "frame": "group", "fontSize": 11, "dx": 3, "offset": 2},
            "data": {"name": "bR"},
            "mark": {"type": "text", "fontSize": 10.5},
            "encoding": {
              "x": {"field": "t", "type": "quantitative", "scale": {"domain": [-0.53, 14.06], "nice": false, "zero": false}, "axis": null},
              "y": {"field": "g", "type": "nominal", "scale": {"domain": ["LOW","INT","HIGH"], "paddingInner": 0, "paddingOuter": 0}, "axis": {"title": null, "ticks": false, "tickSize": 0, "labelAlign": "left", "labelPadding": 46.5, "labelFontSize": 11}},
              "text": {"field": "n"}
            }
          }
        ],
        "spacing": 3
      }
    ],
    "spacing": 34,
    "resolve": {"scale": {"color": "independent"}}
  },
  {
    "vconcat": [
      {
        "hconcat": [
          {
            "vconcat": [
              {
                "width": 265, "height": 206,
                "layer": [
                  {"data": {"name": "cC"}, "mark": {"type": "line", "interpolate": "step-after", "strokeWidth": 1.6},
                   "encoding": {
                     "x": {"field": "t", "type": "quantitative", "scale": {"domain": [-0.53, 14.06], "nice": false, "zero": false}, "axis": {"title": "Observation time (years)", "tickCount": 14, "labelExpr": "datum.value % 2 === 0 ? datum.label : ''", "labelFlush": false, "labelOverlap": false, "labelPadding": 1, "titleFontSize": 14.5, "titlePadding": 1}},
                     "y": {"field": "s", "type": "quantitative", "scale": {"domain": [-0.04, 1.04], "nice": false, "zero": false}, "axis": {"title": "Overall survival", "values": [0,0.2,0.4,0.6,0.8,1], "format": ".1f", "labelAngle": 270, "labelAlign": "center", "labelBaseline": "bottom", "labelPadding": 2, "labelFlush": false, "titleFontSize": 18, "titlePadding": 3}},
                     "color": {"field": "g", "type": "nominal", "scale": {"domain": ["LOW","LOW-INT","HIGH-INT","HIGH"], "range": ["#000000","#f01515","#35b035","#2a46b0"]}, "legend": null}
                   }},
                  {"data": {"name": "cX"}, "mark": {"type": "tick", "orient": "vertical", "size": 6, "thickness": 1},
                   "encoding": {"x": {"field": "t", "type": "quantitative"}, "y": {"field": "s", "type": "quantitative"}, "color": {"field": "g", "type": "nominal", "legend": null}}},
                  {"data": {"values": [{}]}, "mark": {"type": "text", "align": "left", "baseline": "middle", "fontSize": 11, "fontStyle": "italic"}, "encoding": {"x": {"datum": -0.07}, "y": {"datum": 0.259}, "text": {"value": "P"}}},
                  {"data": {"values": [{}]}, "mark": {"type": "text", "align": "left", "baseline": "middle", "fontSize": 11}, "encoding": {"x": {"datum": 0.48}, "y": {"datum": 0.259}, "text": {"value": "< 0.0001"}}},
                  {"data": {"values": [{}]}, "mark": {"type": "rule", "strokeWidth": 2.5, "color": "#000000"}, "encoding": {"x": {"datum": -0.07}, "x2": {"datum": 0.59}, "y": {"datum": 0.193}}},
                  {"data": {"values": [{}]}, "mark": {"type": "rule", "strokeWidth": 2.5, "color": "#f01515"}, "encoding": {"x": {"datum": -0.07}, "x2": {"datum": 0.59}, "y": {"datum": 0.135}}},
                  {"data": {"values": [{}]}, "mark": {"type": "rule", "strokeWidth": 2.5, "color": "#35b035"}, "encoding": {"x": {"datum": -0.07}, "x2": {"datum": 0.59}, "y": {"datum": 0.077}}},
                  {"data": {"values": [{}]}, "mark": {"type": "rule", "strokeWidth": 2.5, "color": "#2a46b0"}, "encoding": {"x": {"datum": -0.07}, "x2": {"datum": 0.59}, "y": {"datum": 0.021}}},
                  {"data": {"values": [{}]}, "mark": {"type": "text", "align": "left", "baseline": "middle", "fontSize": 11}, "encoding": {"x": {"datum": 0.79}, "y": {"datum": 0.193}, "text": {"value": "LOW"}}},
                  {"data": {"values": [{}]}, "mark": {"type": "text", "align": "left", "baseline": "middle", "fontSize": 11}, "encoding": {"x": {"datum": 0.79}, "y": {"datum": 0.135}, "text": {"value": "LOW-INT"}}},
                  {"data": {"values": [{}]}, "mark": {"type": "text", "align": "left", "baseline": "middle", "fontSize": 11}, "encoding": {"x": {"datum": 0.79}, "y": {"datum": 0.077}, "text": {"value": "HIGH-INT"}}},
                  {"data": {"values": [{}]}, "mark": {"type": "text", "align": "left", "baseline": "middle", "fontSize": 11}, "encoding": {"x": {"datum": 0.79}, "y": {"datum": 0.021}, "text": {"value": "HIGH"}}},
                  {"data": {"values": [{}]}, "mark": {"type": "text", "align": "left", "baseline": "middle", "fontSize": 21}, "encoding": {"x": {"datum": -2.97}, "y": {"datum": 1.0}, "text": {"value": "C)"}}}
                ]
              },
              {
                "width": 265, "height": 42, "view": {"stroke": null},
                "title": {"text": "Numbers at risk:", "anchor": "start", "frame": "group", "fontSize": 11, "dx": 4, "offset": 1},
                "data": {"name": "cR"},
                "mark": {"type": "text", "fontSize": 10.5},
                "encoding": {
                  "x": {"field": "t", "type": "quantitative", "scale": {"domain": [-0.53, 14.06], "nice": false, "zero": false}, "axis": null},
                  "y": {"field": "g", "type": "nominal", "scale": {"domain": ["LOW","LOW-INT","HIGH-INT","HIGH"], "paddingInner": 0, "paddingOuter": 0}, "axis": {"title": null, "ticks": false, "tickSize": 0, "labelAlign": "left", "labelPadding": 44, "labelFontSize": 11}},
                  "text": {"field": "n"}
                }
              }
            ],
            "spacing": 3
          },
          {
            "vconcat": [
              {
                "width": 265, "height": 206,
                "layer": [
                  {"data": {"name": "dC"}, "mark": {"type": "line", "interpolate": "step-after", "strokeWidth": 1.6},
                   "encoding": {
                     "x": {"field": "t", "type": "quantitative", "scale": {"domain": [-0.53, 14.06], "nice": false, "zero": false}, "axis": {"title": "Observation time (years)", "tickCount": 14, "labelExpr": "datum.value % 2 === 0 ? datum.label : ''", "labelFlush": false, "labelOverlap": false, "labelPadding": 1, "titleFontSize": 14.5, "titlePadding": 1}},
                     "y": {"field": "s", "type": "quantitative", "scale": {"domain": [-0.04, 1.04], "nice": false, "zero": false}, "axis": {"title": "Progression-free survival", "values": [0,0.2,0.4,0.6,0.8,1], "format": ".1f", "labelAngle": 270, "labelAlign": "center", "labelBaseline": "bottom", "labelPadding": 2, "labelFlush": false, "titleFontSize": 14.5, "titlePadding": 5}},
                     "color": {"field": "g", "type": "nominal", "scale": {"domain": ["LOW","LOW-INT","HIGH-INT","HIGH"], "range": ["#000000","#f01515","#35b035","#2a46b0"]}, "legend": null}
                   }},
                  {"data": {"name": "dX"}, "mark": {"type": "tick", "orient": "vertical", "size": 6, "thickness": 1},
                   "encoding": {"x": {"field": "t", "type": "quantitative"}, "y": {"field": "s", "type": "quantitative"}, "color": {"field": "g", "type": "nominal", "legend": null}}},
                  {"data": {"values": [{}]}, "mark": {"type": "text", "align": "left", "baseline": "middle", "fontSize": 11, "fontStyle": "italic"}, "encoding": {"x": {"datum": 8.35}, "y": {"datum": 0.259}, "text": {"value": "P"}}},
                  {"data": {"values": [{}]}, "mark": {"type": "text", "align": "left", "baseline": "middle", "fontSize": 11}, "encoding": {"x": {"datum": 8.9}, "y": {"datum": 0.259}, "text": {"value": "< 0.0001"}}},
                  {"data": {"values": [{}]}, "mark": {"type": "rule", "strokeWidth": 2.5, "color": "#000000"}, "encoding": {"x": {"datum": 8.29}, "x2": {"datum": 9.07}, "y": {"datum": 0.196}}},
                  {"data": {"values": [{}]}, "mark": {"type": "rule", "strokeWidth": 2.5, "color": "#f01515"}, "encoding": {"x": {"datum": 8.29}, "x2": {"datum": 9.07}, "y": {"datum": 0.134}}},
                  {"data": {"values": [{}]}, "mark": {"type": "rule", "strokeWidth": 2.5, "color": "#35b035"}, "encoding": {"x": {"datum": 8.29}, "x2": {"datum": 9.07}, "y": {"datum": 0.075}}},
                  {"data": {"values": [{}]}, "mark": {"type": "rule", "strokeWidth": 2.5, "color": "#2a46b0"}, "encoding": {"x": {"datum": 8.29}, "x2": {"datum": 9.07}, "y": {"datum": 0.018}}},
                  {"data": {"values": [{}]}, "mark": {"type": "text", "align": "left", "baseline": "middle", "fontSize": 11}, "encoding": {"x": {"datum": 9.36}, "y": {"datum": 0.196}, "text": {"value": "LOW"}}},
                  {"data": {"values": [{}]}, "mark": {"type": "text", "align": "left", "baseline": "middle", "fontSize": 11}, "encoding": {"x": {"datum": 9.36}, "y": {"datum": 0.134}, "text": {"value": "LOW-INT"}}},
                  {"data": {"values": [{}]}, "mark": {"type": "text", "align": "left", "baseline": "middle", "fontSize": 11}, "encoding": {"x": {"datum": 9.36}, "y": {"datum": 0.075}, "text": {"value": "HIGH-INT"}}},
                  {"data": {"values": [{}]}, "mark": {"type": "text", "align": "left", "baseline": "middle", "fontSize": 11}, "encoding": {"x": {"datum": 9.36}, "y": {"datum": 0.018}, "text": {"value": "HIGH"}}},
                  {"data": {"values": [{}]}, "mark": {"type": "text", "align": "left", "baseline": "middle", "fontSize": 21}, "encoding": {"x": {"datum": -3.23}, "y": {"datum": 1.0}, "text": {"value": "D)"}}}
                ]
              },
              {
                "width": 265, "height": 42, "view": {"stroke": null},
                "title": {"text": "Numbers at risk:", "anchor": "start", "frame": "group", "fontSize": 11, "dx": 3, "offset": 1},
                "data": {"name": "dR"},
                "mark": {"type": "text", "fontSize": 10.5},
                "encoding": {
                  "x": {"field": "t", "type": "quantitative", "scale": {"domain": [-0.53, 14.06], "nice": false, "zero": false}, "axis": null},
                  "y": {"field": "g", "type": "nominal", "scale": {"domain": ["LOW","LOW-INT","HIGH-INT","HIGH"], "paddingInner": 0, "paddingOuter": 0}, "axis": {"title": null, "ticks": false, "tickSize": 0, "labelAlign": "left", "labelPadding": 46.5, "labelFontSize": 11}},
                  "text": {"field": "n"}
                }
              }
            ],
            "spacing": 3
          }
        ],
        "spacing": 34,
        "resolve": {"scale": {"color": "independent"}}
      },
      {
        "hconcat": [
          {
            "vconcat": [
              {
                "width": 265, "height": 206,
                "layer": [
                  {"data": {"name": "eC"}, "mark": {"type": "line", "interpolate": "step-after", "strokeWidth": 1.6},
                   "encoding": {
                     "x": {"field": "t", "type": "quantitative", "scale": {"domain": [-0.53, 14.06], "nice": false, "zero": false}, "axis": {"title": "Observation time (years)", "tickCount": 14, "labelExpr": "datum.value % 2 === 0 ? datum.label : ''", "labelFlush": false, "labelOverlap": false, "labelPadding": 1, "titleFontSize": 14.5, "titlePadding": 1}},
                     "y": {"field": "s", "type": "quantitative", "scale": {"domain": [-0.04, 1.04], "nice": false, "zero": false}, "axis": {"title": "Overall survival", "values": [0,0.2,0.4,0.6,0.8,1], "format": ".1f", "labelAngle": 270, "labelAlign": "center", "labelBaseline": "bottom", "labelPadding": 2, "labelFlush": false, "titleFontSize": 18, "titlePadding": 3}},
                     "color": {"field": "g", "type": "nominal", "scale": {"domain": ["LOW","HIGH"], "range": ["#000000","#f01515"]}, "legend": null}
                   }},
                  {"data": {"name": "eX"}, "mark": {"type": "tick", "orient": "vertical", "size": 6, "thickness": 1},
                   "encoding": {"x": {"field": "t", "type": "quantitative"}, "y": {"field": "s", "type": "quantitative"}, "color": {"field": "g", "type": "nominal", "legend": null}}},
                  {"data": {"values": [{}]}, "mark": {"type": "text", "align": "left", "baseline": "middle", "fontSize": 11, "fontStyle": "italic"}, "encoding": {"x": {"datum": -0.07}, "y": {"datum": 0.196}, "text": {"value": "P"}}},
                  {"data": {"values": [{}]}, "mark": {"type": "text", "align": "left", "baseline": "middle", "fontSize": 11}, "encoding": {"x": {"datum": 0.48}, "y": {"datum": 0.196}, "text": {"value": "< 0.0001"}}},
                  {"data": {"values": [{}]}, "mark": {"type": "rule", "strokeWidth": 2.5, "color": "#000000"}, "encoding": {"x": {"datum": -0.07}, "x2": {"datum": 0.62}, "y": {"datum": 0.126}}},
                  {"data": {"values": [{}]}, "mark": {"type": "rule", "strokeWidth": 2.5, "color": "#f01515"}, "encoding": {"x": {"datum": -0.07}, "x2": {"datum": 0.62}, "y": {"datum": 0.07}}},
                  {"data": {"values": [{}]}, "mark": {"type": "text", "align": "left", "baseline": "middle", "fontSize": 11}, "encoding": {"x": {"datum": 0.85}, "y": {"datum": 0.126}, "text": {"value": "LOW"}}},
                  {"data": {"values": [{}]}, "mark": {"type": "text", "align": "left", "baseline": "middle", "fontSize": 11}, "encoding": {"x": {"datum": 0.85}, "y": {"datum": 0.07}, "text": {"value": "HIGH"}}},
                  {"data": {"values": [{}]}, "mark": {"type": "text", "align": "left", "baseline": "middle", "fontSize": 21}, "encoding": {"x": {"datum": -2.97}, "y": {"datum": 1.0}, "text": {"value": "E)"}}}
                ]
              },
              {
                "width": 265, "height": 21, "view": {"stroke": null},
                "title": {"text": "Numbers at risk:", "anchor": "start", "frame": "group", "fontSize": 11, "dx": 4, "offset": 1},
                "data": {"name": "eR"},
                "mark": {"type": "text", "fontSize": 10.5},
                "encoding": {
                  "x": {"field": "t", "type": "quantitative", "scale": {"domain": [-0.53, 14.06], "nice": false, "zero": false}, "axis": null},
                  "y": {"field": "g", "type": "nominal", "scale": {"domain": ["LOW","HIGH"], "paddingInner": 0, "paddingOuter": 0}, "axis": {"title": null, "ticks": false, "tickSize": 0, "labelAlign": "left", "labelPadding": 44, "labelFontSize": 11}},
                  "text": {"field": "n"}
                }
              }
            ],
            "spacing": 1
          },
          {
            "vconcat": [
              {
                "width": 265, "height": 206,
                "layer": [
                  {"data": {"name": "fC"}, "mark": {"type": "line", "interpolate": "step-after", "strokeWidth": 1.6},
                   "encoding": {
                     "x": {"field": "t", "type": "quantitative", "scale": {"domain": [-0.53, 14.06], "nice": false, "zero": false}, "axis": {"title": "Observation time (years)", "tickCount": 14, "labelExpr": "datum.value % 2 === 0 ? datum.label : ''", "labelFlush": false, "labelOverlap": false, "labelPadding": 1, "titleFontSize": 14.5, "titlePadding": 1}},
                     "y": {"field": "s", "type": "quantitative", "scale": {"domain": [-0.04, 1.04], "nice": false, "zero": false}, "axis": {"title": "Overall survival", "values": [0,0.2,0.4,0.6,0.8,1], "format": ".1f", "labelAngle": 270, "labelAlign": "center", "labelBaseline": "bottom", "labelPadding": 2, "labelFlush": false, "titleFontSize": 18, "titlePadding": 3}},
                     "color": {"field": "g", "type": "nominal", "scale": {"domain": ["LOW","HIGH"], "range": ["#000000","#f01515"]}, "legend": null}
                   }},
                  {"data": {"name": "fX"}, "mark": {"type": "tick", "orient": "vertical", "size": 6, "thickness": 1},
                   "encoding": {"x": {"field": "t", "type": "quantitative"}, "y": {"field": "s", "type": "quantitative"}, "color": {"field": "g", "type": "nominal", "legend": null}}},
                  {"data": {"values": [{}]}, "mark": {"type": "text", "align": "left", "baseline": "middle", "fontSize": 11, "fontStyle": "italic"}, "encoding": {"x": {"datum": -0.31}, "y": {"datum": 0.196}, "text": {"value": "P"}}},
                  {"data": {"values": [{}]}, "mark": {"type": "text", "align": "left", "baseline": "middle", "fontSize": 11}, "encoding": {"x": {"datum": 0.24}, "y": {"datum": 0.196}, "text": {"value": "< 0.0001"}}},
                  {"data": {"values": [{}]}, "mark": {"type": "rule", "strokeWidth": 2.5, "color": "#000000"}, "encoding": {"x": {"datum": -0.37}, "x2": {"datum": 0.33}, "y": {"datum": 0.126}}},
                  {"data": {"values": [{}]}, "mark": {"type": "rule", "strokeWidth": 2.5, "color": "#f01515"}, "encoding": {"x": {"datum": -0.37}, "x2": {"datum": 0.33}, "y": {"datum": 0.07}}},
                  {"data": {"values": [{}]}, "mark": {"type": "text", "align": "left", "baseline": "middle", "fontSize": 11}, "encoding": {"x": {"datum": 0.59}, "y": {"datum": 0.126}, "text": {"value": "LOW"}}},
                  {"data": {"values": [{}]}, "mark": {"type": "text", "align": "left", "baseline": "middle", "fontSize": 11}, "encoding": {"x": {"datum": 0.59}, "y": {"datum": 0.07}, "text": {"value": "HIGH"}}},
                  {"data": {"values": [{}]}, "mark": {"type": "text", "align": "left", "baseline": "middle", "fontSize": 21}, "encoding": {"x": {"datum": -3.23}, "y": {"datum": 1.0}, "text": {"value": "F)"}}}
                ]
              },
              {
                "width": 265, "height": 21, "view": {"stroke": null},
                "title": {"text": "Numbers at risk:", "anchor": "start", "frame": "group", "fontSize": 11, "dx": 3, "offset": 1},
                "data": {"name": "fR"},
                "mark": {"type": "text", "fontSize": 10.5},
                "encoding": {
                  "x": {"field": "t", "type": "quantitative", "scale": {"domain": [-0.53, 14.06], "nice": false, "zero": false}, "axis": null},
                  "y": {"field": "g", "type": "nominal", "scale": {"domain": ["LOW","HIGH"], "paddingInner": 0, "paddingOuter": 0}, "axis": {"title": null, "ticks": false, "tickSize": 0, "labelAlign": "left", "labelPadding": 46.5, "labelFontSize": 11}},
                  "text": {"field": "n"}
                }
              }
            ],
            "spacing": 1
          }
        ],
        "spacing": 34,
        "resolve": {"scale": {"color": "independent"}}
      }
    ],
    "spacing": 21,
    "resolve": {"scale": {"color": "independent"}}
  }
]
}
